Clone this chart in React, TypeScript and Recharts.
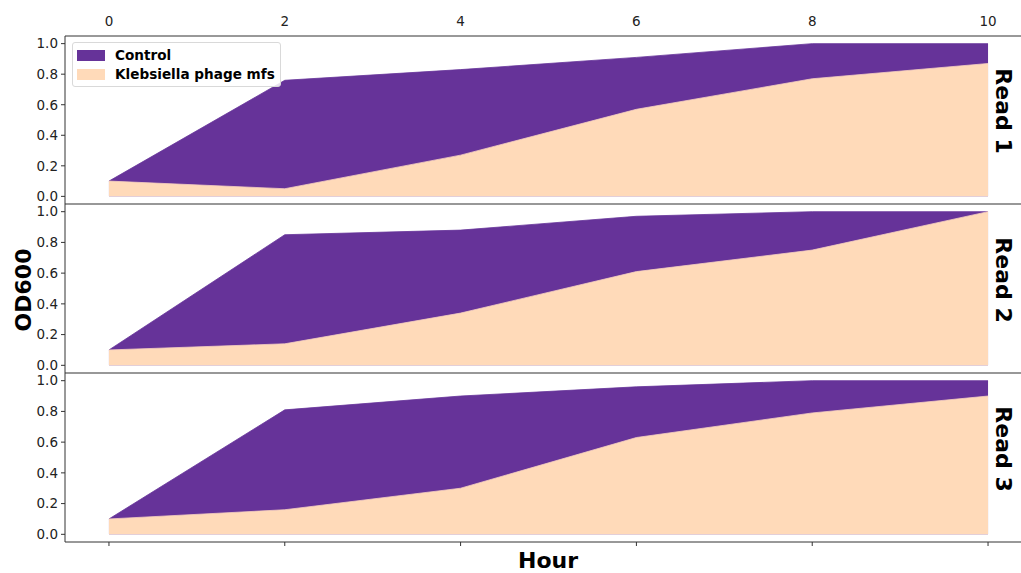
import React from 'react';
import { AreaChart, Area, XAxis, YAxis, ReferenceLine } from 'recharts';

const hours = [0, 2, 4, 6, 8, 10];
const read1Control = [0.1, 0.76, 0.83, 0.91, 1.0, 1.0];
const read1Phage = [0.1, 0.05, 0.27, 0.57, 0.77, 0.87];
const read2Control = [0.1, 0.85, 0.88, 0.97, 1.0, 1.0];
const read2Phage = [0.1, 0.14, 0.34, 0.61, 0.75, 1.0];
const read3Control = [0.1, 0.81, 0.9, 0.96, 1.0, 1.0];
const read3Phage = [0.1, 0.16, 0.3, 0.63, 0.79, 0.9];
const xTicks = [0, 2, 4, 6, 8, 10];
const yTicks = [0, 0.2, 0.4, 0.6, 0.8, 1.0];
const readNames = ['Read 1', 'Read 2', 'Read 3'];

const CONTROL = '#663399';
const PHAGE = '#FFDAB9';
const SPINE = '#333333';
const FONT = '"DejaVu Sans", sans-serif';

const build = (control: number[], phage: number[]) =>
  hours.map((h, i) => ({ hour: h, control: control[i], phage: phage[i] }));

const panels = [
  { data: build(read1Control, read1Phage), top: 0, height: 204, kind: 'top' },
  { data: build(read2Control, read2Phage), top: 204, height: 169, kind: 'mid' },
  { data: build(read3Control, read3Phage), top: 373, height: 200, kind: 'bottom' },
];
const panelCenters = [120, 288.5, 457.5];

const tickStyle = { fontSize: 13.5, fill: '#222', fontFamily: FONT };

function Panel({ data, top, height, kind }: { data: any[]; top: number; height: number; kind: string }) {
  return (
    <div style={{ position: 'absolute', left: 0, top }}>
      <AreaChart
        width={1040}
        height={height}
        data={data}
        margin={{ top: kind === 'top' ? 6 : 0, right: 8, bottom: 0, left: 0 }}
      >
        {kind === 'top' && (
          <XAxis
            dataKey="hour"
            type="number"
            domain={[-0.5, 10.5]}
            ticks={xTicks}
            interval={0}
            orientation="top"
            height={30}
            tickLine={false}
            tickSize={8}
            tickMargin={2}
            fontSize={13.5}
            tick={tickStyle}
            axisLine={{ stroke: SPINE }}
            allowDataOverflow
          />
        )}
        {kind === 'mid' && (
          <XAxis dataKey="hour" type="number" domain={[-0.5, 10.5]} hide allowDataOverflow />
        )}
        {kind === 'bottom' && (
          <XAxis
            dataKey="hour"
            type="number"
            domain={[-0.5, 10.5]}
            ticks={xTicks}
            interval={0}
            height={31}
            tickSize={4}
            tickLine={{ stroke: SPINE }}
            tick={() => <g />}
            axisLine={{ stroke: SPINE }}
            allowDataOverflow
          />
        )}
        <YAxis
          type="number"
          domain={[-0.05, 1.05]}
          ticks={yTicks}
          interval={0}
          width={65}
          tickSize={4}
          tickMargin={3}
          fontSize={13.5}
          tick={tickStyle}
          tickLine={{ stroke: SPINE }}
          axisLine={{ stroke: SPINE }}
          tickFormatter={(v: number) => v.toFixed(1)}
          allowDataOverflow
        />
        <Area
          type="linear"
          dataKey="control"
          name="Control"
          baseValue={0}
          fill={CONTROL}
          fillOpacity={1}
          stroke={CONTROL}
          strokeWidth={0.8}
          isAnimationActive={false}
          dot={false}
          activeDot={false}
        />
        <Area
          type="linear"
          dataKey="phage"
          name="Klebsiella phage mfs"
          baseValue={0}
          fill={PHAGE}
          fillOpacity={1}
          stroke="#F5CFC0"
          strokeWidth={0.8}
          isAnimationActive={false}
          dot={false}
          activeDot={false}
        />
        {kind !== 'top' && <ReferenceLine y={1.05} stroke={SPINE} strokeWidth={1.2} />}
        {kind !== 'bottom' && <ReferenceLine y={-0.05} stroke={SPINE} strokeWidth={1.2} />}
      </AreaChart>
    </div>
  );
}

function LegendBox() {
  const items = [
    { name: 'Control', color: CONTROL },
    { name: 'Klebsiella phage mfs', color: PHAGE },
  ];
  return (
    <div
      style={{
        position: 'absolute',
        left: 72,
        top: 42,
        width: 207,
        height: 43,
        border: '1px solid #d9d9d9',
        borderRadius: 3,
        background: 'rgba(255,255,255,0.85)',
        fontFamily: FONT,
        fontWeight: 'bold',
        fontSize: 13.6,
        color: '#000',
      }}
    >
      {items.map((it, i) => (
        <div key={it.name} style={{ position: 'absolute', left: 4, top: 3 + i * 19, height: 18, display: 'flex', alignItems: 'center' }}>
          <span style={{ display: 'inline-block', width: 28, height: 11, background: it.color, marginRight: 10 }} />
          <span style={{ whiteSpace: 'nowrap' }}>{it.name}</span>
        </div>
      ))}
    </div>
  );
}

export default function App() {
  return (
    <div
      style={{
        position: 'absolute',
        left: 0,
        top: 0,
        width: 1021,
        height: 573,
        overflow: 'hidden',
        background: '#fff',
        fontFamily: FONT,
      }}
    >
      {panels.map((p, i) => (
        <Panel key={i} data={p.data} top={p.top} height={p.height} kind={p.kind} />
      ))}
      <LegendBox />
      {readNames.map((r, i) => (
        <div
          key={r}
          style={{
            position: 'absolute',
            left: 1003,
            top: panelCenters[i] - 9,
            transform: 'translate(-50%, -50%) rotate(90deg)',
            fontSize: 22,
            fontWeight: 'bold',
            whiteSpace: 'nowrap',
            color: '#000',
          }}
        >
          {r}
        </div>
      ))}
      <div
        style={{
          position: 'absolute',
          left: 23,
          top: 290,
          transform: 'translate(-50%, -50%) rotate(-90deg)',
          fontSize: 22,
          fontWeight: 'bold',
          whiteSpace: 'nowrap',
          color: '#000',
        }}
      >
        OD600
      </div>
      <div
        style={{
          position: 'absolute',
          left: 548,
          top: 560,
          transform: 'translate(-50%, -50%)',
          fontSize: 22,
          fontWeight: 'bold',
          whiteSpace: 'nowrap',
          color: '#000',
        }}
      >
        Hour
      </div>
    </div>
  );
}
